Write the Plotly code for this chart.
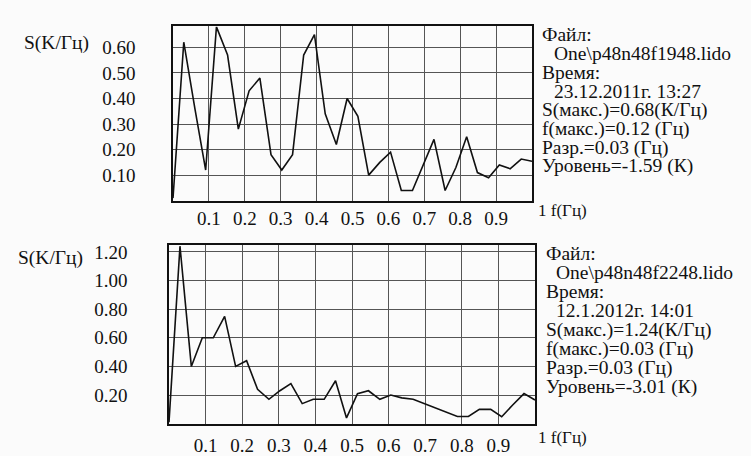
import plotly.graph_objects as go

freq = [0.0, 0.03, 0.061, 0.091, 0.121, 0.152, 0.182, 0.212, 0.242, 0.273,
        0.303, 0.333, 0.364, 0.394, 0.424, 0.455, 0.485, 0.515, 0.545, 0.576,
        0.606, 0.636, 0.667, 0.697, 0.727, 0.758, 0.788, 0.818, 0.848, 0.879,
        0.909, 0.939, 0.970, 1.0]

s_top = [0.01, 0.62, 0.36, 0.12, 0.68, 0.57, 0.28, 0.43, 0.48, 0.18,
         0.12, 0.18, 0.57, 0.65, 0.34, 0.22, 0.40, 0.33, 0.10, 0.15,
         0.19, 0.04, 0.04, 0.14, 0.24, 0.04, 0.13, 0.25, 0.11, 0.09,
         0.14, 0.125, 0.163, 0.154]

s_bot = [0.01, 1.24, 0.40, 0.60, 0.60, 0.75, 0.40, 0.44, 0.24, 0.17,
         0.23, 0.28, 0.14, 0.17, 0.17, 0.30, 0.04, 0.21, 0.23, 0.17,
         0.20, 0.18, 0.17, 0.14, 0.11, 0.075, 0.05, 0.05, 0.10, 0.10,
         0.048, 0.13, 0.21, 0.165]

x_ticks = [0.1, 0.2, 0.3, 0.4, 0.5, 0.6, 0.7, 0.8, 0.9]
x_labels = ["0.1", "0.2", "0.3", "0.4", "0.5", "0.6", "0.7", "0.8", "0.9"]
y_top_ticks = [0.1, 0.2, 0.3, 0.4, 0.5, 0.6]
y_top_labels = ["0.10", "0.20", "0.30", "0.40", "0.50", "0.60"]
y_bot_ticks = [0.2, 0.4, 0.6, 0.8, 1.0, 1.2]
y_bot_labels = ["0.20", "0.40", "0.60", "0.80", "1.00", "1.20"]

info_top = ["Файл:", " One\\p48n48f1948.lido", "Время:", " 23.12.2011г. 13:27",
            "S(макс.)=0.68(К/Гц)", "f(макс.)=0.12 (Гц)", "Разр.=0.03 (Гц)",
            "Уровень=-1.59 (К)"]
info_bot = ["Файл:", " One\\p48n48f2248.lido", "Время:", " 12.1.2012г. 14:01",
            "S(макс.)=1.24(К/Гц)", "f(макс.)=0.03 (Гц)", "Разр.=0.03 (Гц)",
            "Уровень=-3.01 (К)"]

W, H = 751, 456
FONT = "Liberation Serif"
FS_TICK = 19
FS_TEXT = 19.5

fig = go.Figure()
fig.add_trace(go.Scatter(x=freq, y=s_top, mode="lines", xaxis="x", yaxis="y",
                         line=dict(color="#111111", width=1.6), showlegend=False))
fig.add_trace(go.Scatter(x=freq, y=s_bot, mode="lines", xaxis="x2", yaxis="y2",
                         line=dict(color="#111111", width=1.6), showlegend=False))

def px_x(p):
    return p / W

def px_y(p):
    return 1 - p / H

tickfont = dict(family=FONT, size=FS_TICK, color="#111111")
xcommon = dict(range=[0, 1], tickvals=x_ticks, ticktext=x_labels, showgrid=True,
               gridcolor="#555555", gridwidth=1, zeroline=False, showline=True,
               mirror=True, linecolor="#111111", linewidth=1.5, ticks="",
               tickfont=tickfont)
ycommon = dict(showgrid=True, gridcolor="#555555", gridwidth=1, zeroline=False,
               showline=True, mirror=True, linecolor="#111111", linewidth=1.5,
               ticks="", tickfont=tickfont)

fig.update_layout(
    width=W, height=H, margin=dict(l=0, r=0, t=0, b=0),
    paper_bgcolor="#fbfbfb", plot_bgcolor="#fbfbfb",
    xaxis=dict(domain=[px_x(173), px_x(532)], anchor="y", **xcommon),
    yaxis=dict(domain=[px_y(202), px_y(23)], anchor="x", range=[0, 0.682],
               tickvals=y_top_ticks, ticktext=y_top_labels,
               ticklabelstandoff=32, **ycommon),
    xaxis2=dict(domain=[px_x(169), px_x(535)], anchor="y2",
                ticklabelstandoff=4, **xcommon),
    yaxis2=dict(domain=[px_y(431), px_y(248)], anchor="x2", range=[0, 1.245],
                tickvals=y_bot_ticks, ticktext=y_bot_labels,
                ticklabelstandoff=36, **ycommon),
)

ann = []
tf = dict(family=FONT, size=FS_TEXT, color="#111111")
tf_small = dict(family=FONT, size=17, color="#111111")
ann.append(dict(text="S(K/Гц)", x=px_x(22), y=px_y(40), xref="paper", yref="paper",
                xanchor="left", yanchor="middle", showarrow=False, font=tf))
ann.append(dict(text="S(K/Гц)", x=px_x(16), y=px_y(261), xref="paper", yref="paper",
                xanchor="left", yanchor="middle", showarrow=False, font=tf))
ann.append(dict(text="1 f(Гц)", x=1, xshift=4, y=px_y(212), xref="x", yref="paper",
                xanchor="left", yanchor="middle", showarrow=False, font=tf_small))
ann.append(dict(text="1 f(Гц)", x=1, xshift=1, y=px_y(445), xref="x2", yref="paper",
                xanchor="left", yanchor="middle", showarrow=False, font=tf_small))

for i, t in enumerate(info_top):
    indent = t.startswith(" ")
    ann.append(dict(text=t.strip(), x=px_x(553 if indent else 541), y=px_y(31.7 + i * 19.3),
                    xref="paper", yref="paper", xanchor="left", yanchor="middle",
                    showarrow=False, font=tf, borderpad=0))
for i, t in enumerate(info_bot):
    indent = t.startswith(" ")
    ann.append(dict(text=t.strip(), x=px_x(555 if indent else 545), y=px_y(256.7 + i * 19.5),
                    xref="paper", yref="paper", xanchor="left", yanchor="middle",
                    showarrow=False, font=tf, borderpad=0))

fig.update_layout(annotations=ann)
fig.write_html("out.html", config={"displayModeBar": False},
               post_script="document.body.style.margin='0';document.body.style.overflow='hidden';")
